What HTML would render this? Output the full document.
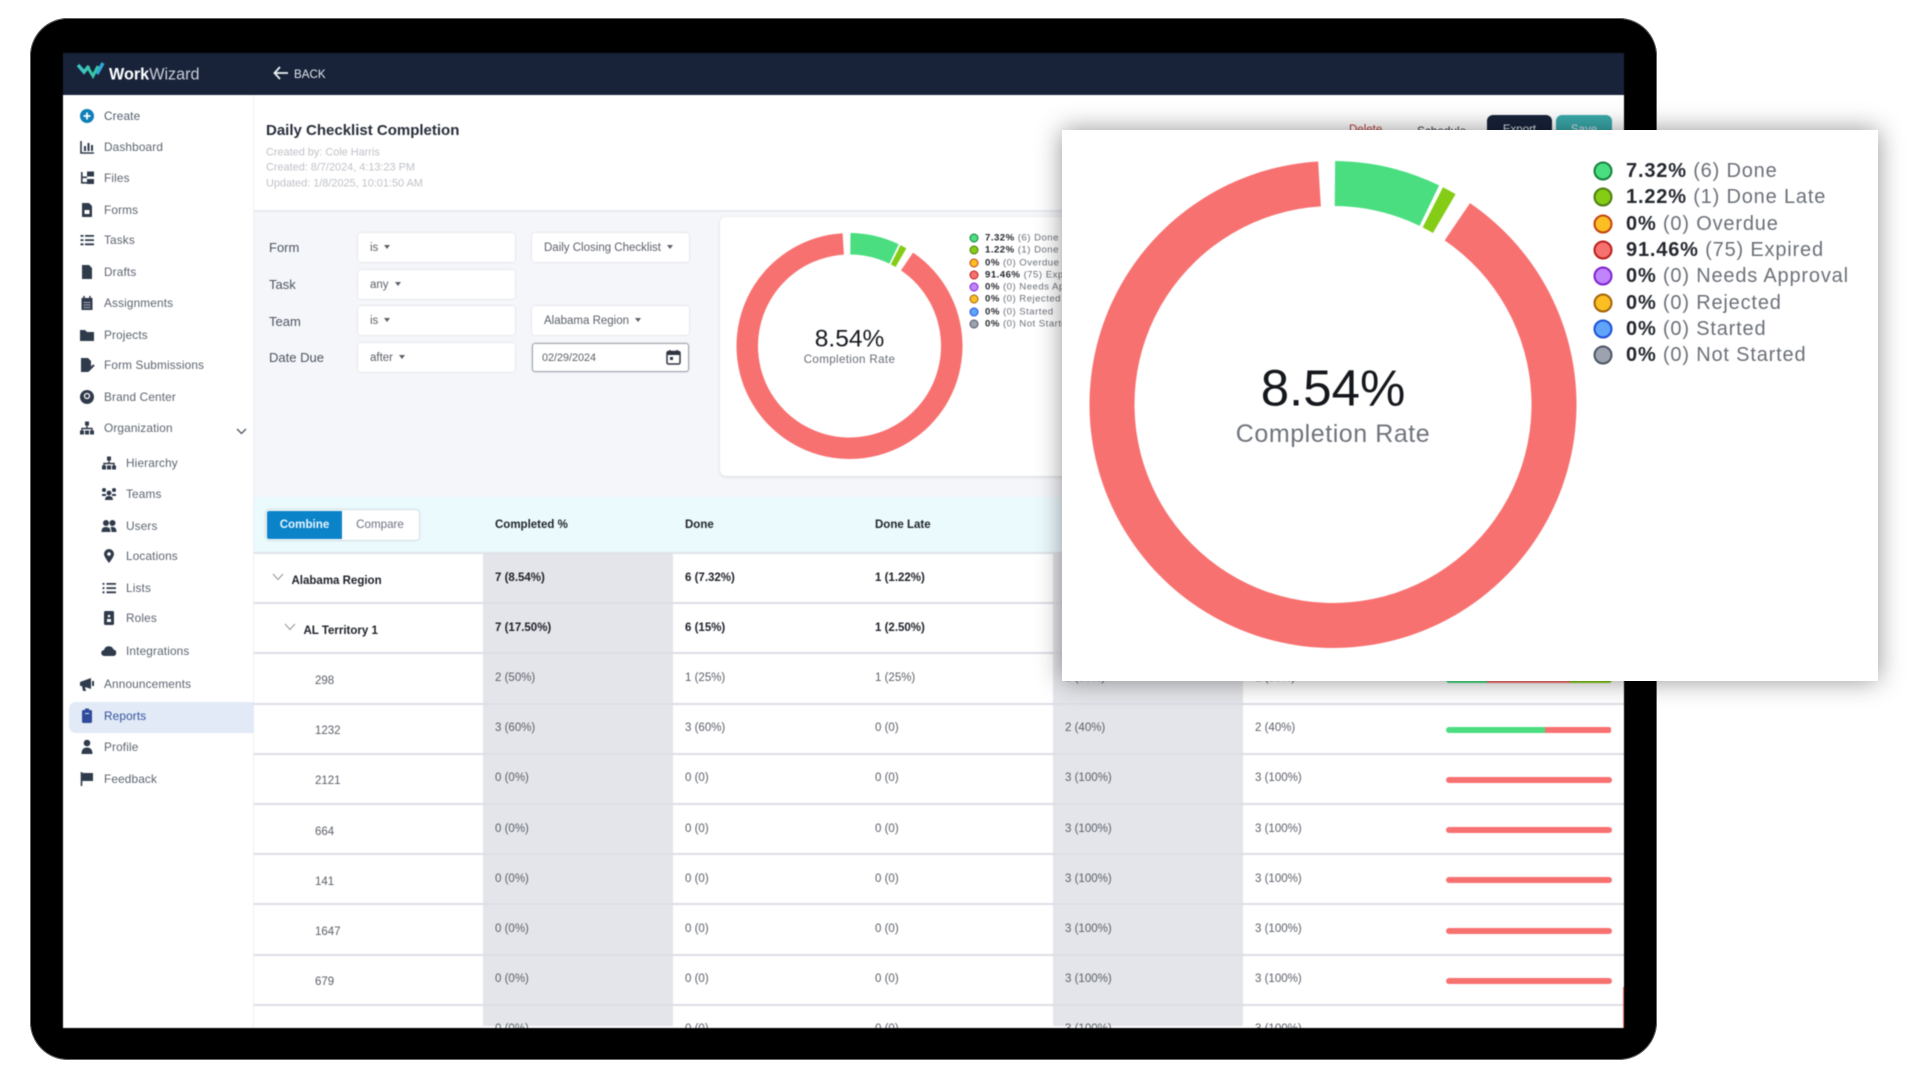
<!DOCTYPE html>
<html lang="en">
<head>
<meta charset="utf-8">
<title>Daily Checklist Completion report</title>
<style>
html,body{margin:0;padding:0;background:#fff;width:1920px;height:1080px;overflow:hidden;font-family:"Liberation Sans",sans-serif}
#stage{position:relative;width:1920px;height:1080px;overflow:hidden;background:#fff}
#tablet{position:absolute;left:30px;top:18px;width:1627px;height:1042px;background:#000;border-radius:38px;box-shadow:0 0 0 1px #666 inset}
#screen{position:absolute;left:63px;top:53px;width:1561px;height:975px;background:#fff;overflow:hidden;filter:blur(.5px)}
#screen .t,#stage .t{position:absolute;white-space:nowrap;transform:translateY(-50%);line-height:1.2}
#topbar{position:absolute;left:0;top:0;width:1561px;height:42px;background:#18233a}
#sidebar{position:absolute;left:0;top:42px;width:191px;height:933px;background:#fff;border-right:1px solid #eef0f4;box-sizing:border-box}
.nav{position:absolute;left:0;width:191px;height:24px}
.nav svg{position:absolute;left:15px;top:3px;width:18px;height:18px}
.nav span{position:absolute;left:41px;top:4px;font-size:11.8px;line-height:16px;color:#5c6470;letter-spacing:.15px;white-space:nowrap}
.nav.sub svg{left:37px}
.nav.sub span{left:63px}
#reports-hl{position:absolute;left:6px;top:607px;width:185px;height:31px;background:#e1eaf6;border-radius:7px 0 0 7px}
#main-head{position:absolute;left:191px;top:42px;width:1370px;height:115px;background:#fff;border-bottom:2px solid #e8eaef}
#filters{position:absolute;left:191px;top:159px;width:1370px;height:285px;background:#f4f6fa}
.lbl{font-size:13px;color:#4d5560}
.sel{position:absolute;background:#fff;border-radius:3px;box-shadow:0 0 2px rgba(0,0,0,.14);height:29px}
.sel span{position:absolute;left:12px;top:8px;font-size:11.5px;line-height:15px;color:#5b6068;white-space:nowrap}
.sel i{display:inline-block;width:0;height:0;border-left:3.5px solid transparent;border-right:3.5px solid transparent;border-top:4px solid #5b6068;margin-left:6px;vertical-align:2px}
#card{position:absolute;left:657px;top:164px;width:700px;height:259px;background:#fff;border-radius:6px;box-shadow:0 1px 3px rgba(0,0,0,.12)}
#tablearea{position:absolute;left:191px;top:444px;width:1370px;height:531px;background:#fff;overflow:hidden}
#thead{position:absolute;left:0;top:0;width:1370px;height:55px;background:#ebfafd;border-bottom:2px solid #dfe3e8;box-sizing:content-box}
.th{font-size:11.5px;font-weight:bold;color:#20242c}
#toggle{position:absolute;left:12px;top:13px;width:153px;height:30px;border-radius:3px;background:#fff;box-shadow:0 0 2px rgba(0,0,0,.3)}
#combine{position:absolute;left:1px;top:1px;width:75px;height:28px;background:#0b83c9;border-radius:2px 0 0 2px;color:#e8f6ff;font-size:11.6px;font-weight:bold;line-height:28px;text-align:center}
#compare{position:absolute;left:76px;top:1px;width:76px;height:28px;color:#6b7280;font-size:11.6px;line-height:28px;text-align:center}
.cell{font-size:11.5px;color:#5a5f68}
.cell.b{font-weight:bold;color:#1c2028}
.btn{position:absolute;top:62px;height:40px;border-radius:6px 6px 0 0;color:#dfe7ee;font-size:11.5px;text-align:center;line-height:30px}
#overlay{position:absolute;left:1062px;top:130px;width:816px;height:551px;background:#fff;box-shadow:0 0 24px rgba(0,0,0,.42);overflow:hidden}
#overlay svg,#card svg{position:absolute;left:0;top:0;overflow:visible}
#big-legend,#big-donut,.big-txt{filter:blur(.6px)}
.leg{position:absolute;white-space:nowrap;transform:translateY(-50%);line-height:1.2;color:#6b7078}
.leg b{color:#23272e}
.dot{position:absolute;border-radius:50%;box-sizing:border-box;transform:translate(-50%,-50%)}
</style>
</head>
<body>
<div id="stage">
<div id="tablet"></div>
<div id="screen">

  <div id="topbar">
    <svg style="position:absolute;left:13px;top:8px" width="30" height="24" viewBox="0 0 30 24"><polyline points="2,4 8,11 13,5" fill="none" stroke="#3ec6c0" stroke-width="3.4"/><polyline points="11,5 17,15 22,5" fill="none" stroke="#35c9a8" stroke-width="3"/><polyline points="21,13 27,2" fill="none" stroke="#2fa9d8" stroke-width="3.4"/></svg>
    <div class="t" style="left:46px;top:22px;font-size:16.2px;color:#fff"><b>Work</b><span style="color:#c7ccd6">Wizard</span></div>
    <svg style="position:absolute;left:210px;top:13px" width="16" height="14" viewBox="0 0 16 14"><path d="M7 1 1.5 7 7 13M2 7h13" fill="none" stroke="#eef1f6" stroke-width="1.8"/></svg>
    <div class="t" style="left:231px;top:21.500px;font-size:11.6px;color:#e3e7ee">BACK</div>
  </div>

  <div id="sidebar">
    <div id="reports-hl"></div>
    <div class="nav" style="top:9px"><svg viewBox="0 0 18 18"><circle cx="9" cy="9" r="7" fill="#0f7fb8"/><path d="M9 5.5v7M5.5 9h7" stroke="#fff" stroke-width="1.8"/></svg><span style="color:#4f5b6b">Create</span></div>
    <div class="nav" style="top:40px"><svg viewBox="0 0 18 18"><path d="M3 3v12h13" fill="none" stroke="#2f3a4a" stroke-width="1.6"/><path d="M6 8h2v5H6zM9.5 5h2v8h-2zM13 7h2v6h-2z" fill="#2f3a4a"/></svg><span>Dashboard</span></div>
    <div class="nav" style="top:71px"><svg viewBox="0 0 18 18"><path d="M3 3h1.6v11H3zM3 7.5h6v1.6H3zM3 13h6v1.6H3z" fill="#2f3a4a"/><rect x="9" y="2.5" width="7" height="5" fill="#2f3a4a"/><rect x="9" y="10" width="7" height="5" fill="#2f3a4a"/></svg><span>Files</span></div>
    <div class="nav" style="top:103px"><svg viewBox="0 0 18 18"><path d="M4 2h7l3 3v11H4z" fill="#2f3a4a"/><rect x="6.5" y="9" width="5" height="4" fill="#fff"/></svg><span>Forms</span></div>
    <div class="nav" style="top:133px"><svg viewBox="0 0 18 18"><path d="M7 4h9v1.8H7zM7 8.2h9V10H7zM7 12.4h9v1.8H7zM2.5 4h3v1.8h-3zM2.5 8.2h3V10h-3zM2.5 12.4h3v1.8h-3z" fill="#2f3a4a"/></svg><span>Tasks</span></div>
    <div class="nav" style="top:165px"><svg viewBox="0 0 18 18"><path d="M4 2h7l3 3v11H4z" fill="#2f3a4a"/></svg><span>Drafts</span></div>
    <div class="nav" style="top:196px"><svg viewBox="0 0 18 18"><path d="M3.5 4h11v12h-11z" fill="#2f3a4a"/><path d="M6 2v3M12 2v3" stroke="#2f3a4a" stroke-width="1.6"/><path d="M5.5 8.5h7M5.5 11h7M5.5 13.5h7" stroke="#aab" stroke-width="1"/></svg><span>Assignments</span></div>
    <div class="nav" style="top:228px"><svg viewBox="0 0 18 18"><path d="M2 4h5l2 2h7v9H2z" fill="#2f3a4a"/></svg><span>Projects</span></div>
    <div class="nav" style="top:258px"><svg viewBox="0 0 18 18"><path d="M3 2h7l3 3v7l-3 4H3z" fill="#2f3a4a"/><path d="M10 15l6-6" stroke="#2f3a4a" stroke-width="2"/></svg><span>Form Submissions</span></div>
    <div class="nav" style="top:290px"><svg viewBox="0 0 18 18"><circle cx="9" cy="9" r="7" fill="#2f3a4a"/><circle cx="9" cy="8" r="2.5" fill="none" stroke="#fff" stroke-width="1.3"/></svg><span>Brand Center</span></div>
    <div class="nav" style="top:321px"><svg viewBox="0 0 18 18"><rect x="7" y="2.5" width="4" height="4" fill="#2f3a4a"/><path d="M9 6v4M4 12V9.5h10V12" fill="none" stroke="#2f3a4a" stroke-width="1.4"/><rect x="2" y="11.5" width="4" height="4" fill="#2f3a4a"/><rect x="7" y="11.5" width="4" height="4" fill="#2f3a4a"/><rect x="12" y="11.5" width="4" height="4" fill="#2f3a4a"/></svg><span>Organization</span></div>
    <svg style="position:absolute;left:173px;top:333px" width="11" height="7" viewBox="0 0 11 7"><path d="M1 1l4.5 4.5L10 1" fill="none" stroke="#4b5563" stroke-width="1.3"/></svg>
    <div class="nav sub" style="top:356px"><svg viewBox="0 0 18 18"><rect x="7" y="2.5" width="4" height="4" fill="#2f3a4a"/><path d="M9 6v4M4 12V9.5h10V12" fill="none" stroke="#2f3a4a" stroke-width="1.4"/><rect x="2" y="11.5" width="4" height="4" fill="#2f3a4a"/><rect x="7" y="11.5" width="4" height="4" fill="#2f3a4a"/><rect x="12" y="11.5" width="4" height="4" fill="#2f3a4a"/></svg><span>Hierarchy</span></div>
    <div class="nav sub" style="top:387px"><svg viewBox="0 0 18 18"><circle cx="4" cy="5" r="2" fill="#2f3a4a"/><circle cx="14" cy="5" r="2" fill="#2f3a4a"/><circle cx="9" cy="8" r="2.4" fill="#2f3a4a"/><path d="M2 9h4v2H2zM12 9h4v2h-4zM5 15c0-3 2-4 4-4s4 1 4 4z" fill="#2f3a4a"/></svg><span>Teams</span></div>
    <div class="nav sub" style="top:419px"><svg viewBox="0 0 18 18"><circle cx="6" cy="6" r="3" fill="#2f3a4a"/><circle cx="12.5" cy="6" r="3" fill="#2f3a4a"/><path d="M1.5 15c0-4 2-5 4.5-5s4.500 1 4.500 5zM11.500 15c0-2-.5-3.500-1-5 3-.5 6 0 6 5z" fill="#2f3a4a"/></svg><span>Users</span></div>
    <div class="nav sub" style="top:449px"><svg viewBox="0 0 18 18"><path d="M9 2a5 5 0 0 1 5 5c0 3-5 9-5 9S4 10 4 7a5 5 0 0 1 5-5z" fill="#2f3a4a"/><circle cx="9" cy="7" r="1.800" fill="#fff"/></svg><span>Locations</span></div>
    <div class="nav sub" style="top:481px"><svg viewBox="0 0 18 18"><path d="M6.500 4h9.500v1.800H6.500zM6.500 8.200h9.500V10H6.500zM6.500 12.400h9.500v1.800H6.500zM2.500 4h2v1.800h-2zM2.500 8.200h2V10h-2zM2.500 12.400h2v1.800h-2z" fill="#2f3a4a"/></svg><span>Lists</span></div>
    <div class="nav sub" style="top:511px"><svg viewBox="0 0 18 18"><rect x="4" y="2" width="10" height="14" rx="1.500" fill="#2f3a4a"/><circle cx="9" cy="7" r="1.300" fill="#fff"/><rect x="7" y="10" width="4" height="3" fill="#fff"/></svg><span>Roles</span></div>
    <div class="nav sub" style="top:544px"><svg viewBox="0 0 18 18"><path d="M4.500 14a3 3 0 0 1-.5-6 5 5 0 0 1 9.500-.5A3.300 3.300 0 0 1 13.500 14z" fill="#2f3a4a"/></svg><span>Integrations</span></div>
    <div class="nav" style="top:577px"><svg viewBox="0 0 18 18"><path d="M2 7l11-4v11L7 12l1 4H5l-1-5H2z" fill="#2f3a4a"/><rect x="14" y="6" width="2" height="5" fill="#2f3a4a"/></svg><span>Announcements</span></div>
    <div class="nav" style="top:609px"><svg viewBox="0 0 18 18"><rect x="4" y="3" width="10" height="13" rx="1.500" fill="#2f4a9c"/><rect x="7" y="1.500" width="4" height="3" fill="#2f4a9c"/><rect x="7" y="6" width="4" height="1" fill="#e1eaf6"/></svg><span style="color:#34509c">Reports</span></div>
    <div class="nav" style="top:640px"><svg viewBox="0 0 18 18"><circle cx="9" cy="5" r="3.300" fill="#2f3a4a"/><path d="M3.500 16c0-5 2.500-6.500 5.500-6.500s5.500 1.500 5.500 6.500z" fill="#2f3a4a"/></svg><span>Profile</span></div>
    <div class="nav" style="top:672px"><svg viewBox="0 0 18 18"><path d="M3.500 2v14" stroke="#2f3a4a" stroke-width="1.600"/><path d="M4 3h11v8H4z" fill="#2f3a4a"/></svg><span>Feedback</span></div>
  </div>

  <div id="main-head">
    <div class="t" style="left:12px;top:35.500px;font-size:15px;font-weight:bold;color:#272d3a">Daily Checklist Completion</div>
    <div class="t" style="left:12px;top:58px;font-size:10.900px;color:#bfc2c8">Created by: Cole Harris</div>
    <div class="t" style="left:12px;top:73px;font-size:10.900px;color:#bfc2c8">Created: 8/7/2024, 4:13:23 PM</div>
    <div class="t" style="left:12px;top:89px;font-size:10.900px;color:#bfc2c8">Updated: 1/8/2025, 10:01:50 AM</div>
    <div class="t" style="left:1095px;top:36px;font-size:11.5px;color:#b73a3a">Delete</div>
    <div class="t" style="left:1163px;top:36px;font-size:11.8px;color:#333a45">Schedule</div>
    <div class="btn" style="left:1233px;top:20px;width:65px;background:#18233a">Export</div>
    <div class="btn" style="left:1302px;top:20px;width:56px;background:#3aa9ab">Save</div>
  </div>

  <div id="filters">
    <div class="t lbl" style="left:15px;top:36px">Form</div>
    <div class="t lbl" style="left:15px;top:73px">Task</div>
    <div class="t lbl" style="left:15px;top:110px">Team</div>
    <div class="t lbl" style="left:15px;top:146px">Date Due</div>
    <div class="sel" style="left:104px;top:21px;width:157px"><span>is<i></i></span></div>
    <div class="sel" style="left:278px;top:21px;width:157px"><span>Daily Closing Checklist<i></i></span></div>
    <div class="sel" style="left:104px;top:58px;width:157px"><span>any<i></i></span></div>
    <div class="sel" style="left:104px;top:94px;width:157px"><span>is<i></i></span></div>
    <div class="sel" style="left:278px;top:94px;width:157px"><span>Alabama Region<i></i></span></div>
    <div class="sel" style="left:104px;top:131px;width:157px"><span>after<i></i></span></div>
    <div class="sel" style="left:278px;top:131px;width:157px;box-sizing:border-box;border:1.5px solid #9aa0a8"><span style="left:9px;top:7px;font-size:10.8px">02/29/2024</span>
      <svg style="position:absolute;right:7px;top:5px" width="15" height="16" viewBox="0 0 15 16"><rect x="1" y="2.500" width="13" height="12.500" rx="1.500" fill="none" stroke="#2f3540" stroke-width="1.500"/><rect x="1" y="2.500" width="13" height="3.500" fill="#2f3540"/><path d="M4 1v3M11 1v3" stroke="#2f3540" stroke-width="1.500"/><rect x="4" y="8" width="3" height="3" fill="#2f3540"/></svg>
    </div>
  </div>

  <div id="card">
    <svg id="small-donut" width="700" height="259"></svg>
    <div class="t" id="small-rate" style="left:67px;top:122px;width:125px;text-align:center;font-size:24.5px;color:#16191f"></div>
    <div class="t" style="left:57px;top:142.500px;width:145px;text-align:center;font-size:11.6px;color:#666b73;letter-spacing:.35px">Completion Rate</div>
    <div id="small-legend"></div>
  </div>

  <div id="tablearea">
    <div id="thead">
      <div id="toggle">
        <div id="combine">Combine</div>
        <div id="compare">Compare</div>
      </div>
      <div class="t th" style="left:241px;top:28.500px">Completed %</div>
      <div class="t th" style="left:431px;top:28.500px">Done</div>
      <div class="t th" style="left:621px;top:28.500px">Done Late</div>
    </div>
    <div id="rows"></div>
  </div>

  <div style="position:absolute;left:1560px;top:934px;width:1px;height:41px;background:#f87171"></div>
</div>

<div id="overlay">
  <svg id="big-donut" width="816" height="551"></svg>
  <div class="t big-txt" id="big-rate" style="left:171px;top:258px;width:200px;text-align:center;font-size:51px;color:#14171c"></div>
  <div class="t big-txt" style="left:146px;top:303.500px;width:250px;text-align:center;font-size:25px;color:#6f747b;letter-spacing:.55px">Completion Rate</div>
  <div id="big-legend"></div>
</div>
</div>

<script>
// Donut data
const statusLabels = ['Done','Done Late','Overdue','Expired','Needs Approval','Rejected','Started','Not Started'];
const statusCounts = [6,1,0,75,0,0,0,0];
const statusFills = ['#4ade80','#84cc16','#fbbf24','#f87171','#c084fc','#fbbf24','#60a5fa','#9ca3af'];
const statusRings = ['#15803d','#4d7c0f','#c2410c','#b91c1c','#7e22ce','#a16207','#1d4ed8','#4b5563'];
const completedStatusCount = 2;

// Table data
const rowNames = ['Alabama Region','AL Territory 1','298','1232','2121','664','141','1647','679',''];
const rowLevels = [0,1,2,2,2,2,2,2,2,2];
const rowDone = [6,6,1,3,0,0,0,0,0,0];
const rowLate = [1,1,1,0,0,0,0,0,0,0];
const rowExpired = [75,33,2,2,3,3,3,3,3,3];

const SVGNS = 'http://www.w3.org/2000/svg';
const total = statusCounts.reduce((a,b)=>a+b,0);

function fmtPct(v){
  const s = v.toFixed(2);
  return (s.endsWith('.00') ? s.slice(0,-3) : s) + '%';
}
function polar(cx,cy,r,deg){
  const a = (deg-90)*Math.PI/180;
  return [cx+r*Math.cos(a), cy+r*Math.sin(a)];
}
function arcPath(cx,cy,ro,ri,a0,a1){
  const large = (a1-a0)>180 ? 1 : 0;
  const p0=polar(cx,cy,ro,a0), p1=polar(cx,cy,ro,a1), p2=polar(cx,cy,ri,a1), p3=polar(cx,cy,ri,a0);
  return 'M'+p0[0]+' '+p0[1]+'A'+ro+' '+ro+' 0 '+large+' 1 '+p1[0]+' '+p1[1]+'L'+p2[0]+' '+p2[1]+'A'+ri+' '+ri+' 0 '+large+' 0 '+p3[0]+' '+p3[1]+'Z';
}
function drawDonut(svg,cx,cy,ro,ri){
  let cum = 0;
  statusCounts.forEach(function(count,i){
    if(!count) return;
    const sweep = count/total*360;
    const pad = sweep>180 ? 3.5 : 0.5;
    const path = document.createElementNS(SVGNS,'path');
    path.setAttribute('d',arcPath(cx,cy,ro,ri,cum+pad,cum+sweep-pad));
    path.setAttribute('fill',statusFills[i]);
    
    
    svg.appendChild(path);
    cum += sweep;
  });
}
function drawLegend(host,dotX,textX,y0,step,dotSize,ring,font,spacing){
  statusLabels.forEach(function(label,i){
    const y = y0+i*step;
    const dot = document.createElement('div');
    dot.className = 'dot';
    
    
    dot.style.cssText = 'left:'+dotX+'px;top:'+y+'px;width:'+dotSize+'px;height:'+dotSize+'px;background:'+statusFills[i]+';border:'+ring+'px solid '+statusRings[i];
    host.appendChild(dot);
    const txt = document.createElement('div');
    txt.className = 'leg';
    
    
    txt.style.cssText = 'left:'+textX+'px;top:'+y+'px;font-size:'+font+'px;letter-spacing:'+spacing+'px';
    const b = document.createElement('b');
    b.textContent = fmtPct(statusCounts[i]/total*100);
    txt.appendChild(b);
    txt.appendChild(document.createTextNode(' ('+statusCounts[i]+') '+label));
    host.appendChild(txt);
  });
}

drawDonut(document.getElementById('small-donut'),129.5,129,113,91.5);
drawDonut(document.getElementById('big-donut'),271,274.5,243.5,198.5);
drawLegend(document.getElementById('small-legend'),254,265,21,12.25,9,1.2,9.6,.48);
drawLegend(document.getElementById('big-legend'),540.5,564,41,26.35,19,2.4,20,.82);

const completedCount = statusCounts.slice(0,completedStatusCount).reduce((a,b)=>a+b,0);
const rateText = fmtPct(completedCount/total*100);
document.getElementById('small-rate').textContent = rateText;
document.getElementById('big-rate').textContent = rateText;

// Table rows and progress bars
const rowsHost = document.getElementById('rows');
const ROW_TOP = 57, ROW_H = 50.2, BAR_X = 1191.5, BAR_W = 166;
const colX = [241,431,621,811,1001];
function rowText(parent,x,y,text,bold,name){
  const d = document.createElement('div');
  d.className = 't cell'+(bold?' b':'');
  
  
  d.style.left = x+'px';
  d.style.top = y+'px';
  d.textContent = text;
  parent.appendChild(d);
}
[0,1].forEach(function(k){
  const col = document.createElement('div');
  
  
  col.style.cssText = 'position:absolute;left:'+(k?798.5:228.5)+'px;top:'+(ROW_TOP)+'px;width:190px;height:472px;background:#e4e5ea';
  rowsHost.appendChild(col);
});
rowNames.forEach(function(name,i){
  const top = ROW_TOP+i*ROW_H;
  const line = document.createElement('div');
  
  
  line.style.cssText = 'position:absolute;left:0;width:1370px;height:2px;background:#dcdee5;top:'+(top+ROW_H-2)+'px';
  rowsHost.appendChild(line);
  const done = rowDone[i], late = rowLate[i], exp = rowExpired[i];
  const tot = done+late+exp, comp = done+late;
  const bold = rowLevels[i]<2;
  const mid = top+ROW_H/2-0.5;
  const level = rowLevels[i];
  if(level<2){
    const chev = document.createElementNS(SVGNS,'svg');
    
    
    chev.setAttribute('width','12');
    chev.setAttribute('height','8');
    chev.style.cssText = 'position:absolute;left:'+(18+level*12)+'px;top:'+(mid-6)+'px';
    const cp = document.createElementNS(SVGNS,'path');
    cp.setAttribute('d','M1 1l5 5.500L11 1');
    cp.setAttribute('fill','none');
    cp.setAttribute('stroke','#9aa0a8');
    cp.setAttribute('stroke-width','1.200');
    chev.appendChild(cp);
    rowsHost.appendChild(chev);
  }
  if(name) rowText(rowsHost,[37.5,49.5,61][level],mid+3,name,bold,'row-name');
  const compTxt = comp+' ('+fmtPct(comp/tot*100)+')';
  const doneTxt = done+' ('+(done?fmtPct(done/tot*100):'0')+')';
  const lateTxt = late+' ('+(late?fmtPct(late/tot*100):'0')+')';
  const expTxt = exp+' ('+fmtPct(exp/tot*100)+')';
  rowText(rowsHost,colX[0],mid,compTxt,bold,'completed-cell');
  rowText(rowsHost,colX[1],mid,doneTxt,bold,'done-cell');
  rowText(rowsHost,colX[2],mid,lateTxt,bold,'done-late-cell');
  rowText(rowsHost,colX[3],mid,expTxt,bold,'expired-cell');
  rowText(rowsHost,colX[4],mid,expTxt,bold,'not-completed-cell');
  const bar = document.createElement('div');
  
  
  bar.style.cssText = 'position:absolute;display:flex;overflow:hidden;border-radius:3px;height:6px;left:'+BAR_X+'px;width:'+BAR_W+'px;top:'+(mid-2.5)+'px';
  [[done,statusFills[0]],[exp,statusFills[3]],[late,statusFills[1]]].forEach(function(seg){
    if(!seg[0]) return;
    const s = document.createElement('div');
    
    
    s.style.cssText = 'height:100%;background:'+seg[1]+';width:'+(seg[0]/tot*100)+'%';
    bar.appendChild(s);
  });
  rowsHost.appendChild(bar);
});
</script>
</body>
</html>
